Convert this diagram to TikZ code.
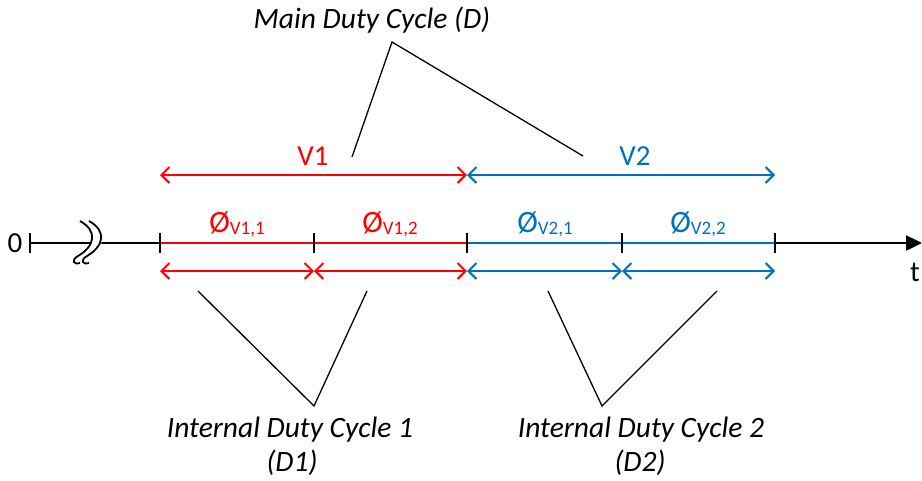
\documentclass[tikz,border=0pt]{standalone}
\usepackage{fontspec}
\setmainfont{Carlito}
\usetikzlibrary{arrows.meta}
\definecolor{vred}{RGB}{255,0,0}
\definecolor{vblue}{RGB}{0,112,192}
\tikzset{
  lbl/.style={font=\fontsize{29}{34}\selectfont, inner sep=0pt, anchor=base},
  ilbl/.style={font=\fontsize{29.5}{34}\selectfont\itshape, inner sep=0pt, anchor=base},
  dimarrow/.style={line width=2pt, {Straight Barb[length=8pt,width=16pt,line width=2pt]}-{Straight Barb[length=8pt,width=16pt,line width=2pt]}},
  tickmark/.style={line width=2pt, black},
  leader/.style={line width=1.3pt, black},
  axisline/.style={line width=2.5pt}
}
\newcommand{\phlab}[1]{{\fontsize{31}{34}\selectfont Ø}\raisebox{-0.15ex}{\fontsize{19}{22}\selectfont #1}}
\begin{document}
\begin{tikzpicture}[x=1pt,y=-1pt]
\useasboundingbox (0,0) rectangle (922,480);
% axis coordinates
\coordinate (a0) at (30,243);
\coordinate (p0) at (160,243);
\coordinate (p1) at (314,243);
\coordinate (p2) at (467,243);
\coordinate (p3) at (622,243);
\coordinate (p4) at (775,243);
\coordinate (aend) at (922,243);
% top arrows
\coordinate (u0) at (160,175);
\coordinate (u2) at (467,175);
\coordinate (u4) at (775,175);
% bottom arrows
\coordinate (b0) at (160,271);
\coordinate (b1) at (314,271);
\coordinate (b2) at (467,271);
\coordinate (b3) at (622,271);
\coordinate (b4) at (775,271);

% axis
\draw[axisline] (a0) -- (p0);
\draw[axisline, vred] (p0) -- (p2);
\draw[axisline, vblue] (p2) -- (p4);
\draw[axisline, -{Triangle[length=16pt,width=15pt]}] (p4) -- (aend);
% ticks
\foreach \p in {a0,p0,p1,p2,p3,p4}
  \draw[tickmark] ([yshift=-10pt]\p) -- ([yshift=10pt]\p);
% break symbol
\fill[white] (79,220) .. controls (97,230) and (95,246) .. (77,256) -- (90,262) .. controls (105,246) and (107,230) .. (89,220) -- cycle;
\draw[line width=1.8pt] (80,221) .. controls (98,231) and (95,246) .. (78,256) .. controls (71,260) and (73,265) .. (80,263);
\draw[line width=1.8pt] (89,221) .. controls (107,231) and (104,246) .. (87,256) .. controls (80,260) and (82,265) .. (89,263);
\node[lbl, anchor=center] (zero) at (15,243) {0};
\node[lbl, anchor=center] (tlab) at (915,272) {t};

% top dimension arrows
\draw[dimarrow, vred] (u0) -- (u2);
\draw[dimarrow, vblue] (u2) -- (u4);
\node[lbl, text=vred] (V1) at (313,165) {V1};
\node[lbl, text=vblue] (V2) at (635,165) {V2};

% bottom dimension arrows
\draw[dimarrow, vred] (b0) -- (b1);
\draw[dimarrow, vred] (b1) -- (b2);
\draw[dimarrow, vblue] (b2) -- (b3);
\draw[dimarrow, vblue] (b3) -- (b4);

% phase labels
\node[lbl, text=vred] (ph11) at (237,232) {\phlab{V1,1}};
\node[lbl, text=vred] (ph12) at (390,232) {\phlab{V1,2}};
\node[lbl, text=vblue] (ph21) at (545,232) {\phlab{V2,1}};
\node[lbl, text=vblue] (ph22) at (698,232) {\phlab{V2,2}};

% main duty cycle
\node[ilbl] (main) at (372,28) {Main Duty Cycle (D)};
\coordinate (mapex) at (392,42);
\coordinate (mL) at (352,157);
\coordinate (mR) at (583,156);
\draw[leader] (mL) -- (mapex) -- (mR);

% internal duty cycle 1
\node[ilbl] (int1) at (290,437) {Internal Duty Cycle 1};
\node[ilbl] (d1) at (292,471) {(D1)};
\coordinate (i1apex) at (314,406);
\coordinate (i1L) at (198,291);
\coordinate (i1R) at (367,291);
\draw[leader] (i1L) -- (i1apex) -- (i1R);

% internal duty cycle 2
\node[ilbl] (int2) at (641,437) {Internal Duty Cycle 2};
\node[ilbl] (d2) at (640,471) {(D2)};
\coordinate (i2apex) at (602,406);
\coordinate (i2L) at (548,291);
\coordinate (i2R) at (717,291);
\draw[leader] (i2L) -- (i2apex) -- (i2R);
\end{tikzpicture}
\end{document}
